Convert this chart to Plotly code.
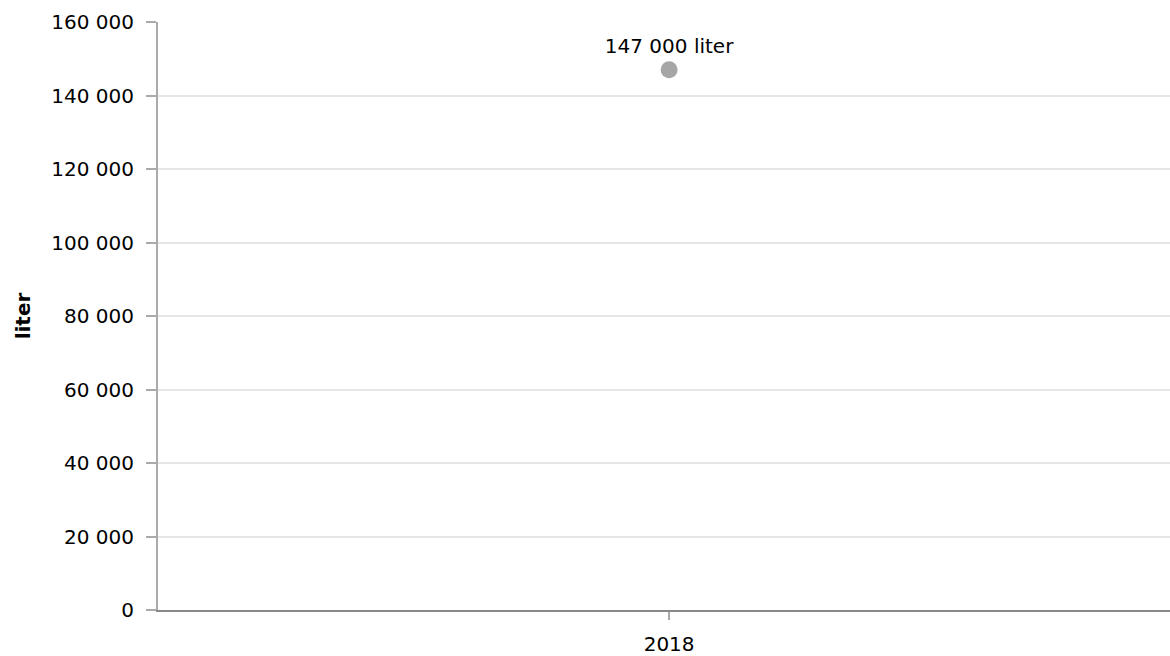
import plotly.graph_objects as go

years = ["2018"]
values = [147000]
labels = ["147 000 liter"]
y_ticks = [0, 20000, 40000, 60000, 80000, 100000, 120000, 140000, 160000]
y_tick_text = ["0", "20 000", "40 000", "60 000", "80 000", "100 000", "120 000", "140 000", "160 000"]

font = "DejaVu Sans, Verdana, sans-serif"
fs = 20

fig = go.Figure()
fig.add_trace(go.Scatter(
    x=years, y=values, mode="markers+text",
    marker=dict(color="#a6a6a6", size=17),
    text=labels, textposition="top center",
    textfont=dict(family=font, size=fs, color="#000000"),
    cliponaxis=False, hoverinfo="skip",
))

fig.update_layout(
    width=1170, height=656,
    margin=dict(l=158, r=0, t=22, b=46, autoexpand=False),
    paper_bgcolor="white", plot_bgcolor="white",
    showlegend=False,
    font=dict(family=font, size=fs, color="#000000"),
)
fig.update_yaxes(
    range=[0, 160000], tickvals=y_ticks, ticktext=y_tick_text,
    showgrid=True, gridcolor="#e6e6e6", gridwidth=2,
    showline=True, linecolor="#aaaaaa", linewidth=2,
    ticks="outside", ticklen=10, tickcolor="#aaaaaa", tickwidth=2,
    ticklabelstandoff=8, automargin=False,
    tickfont=dict(family=font, size=fs),
    zeroline=False,
    title=dict(text="<b>liter</b>", font=dict(family=font, size=fs), standoff=15),
)
fig.update_xaxes(
    type="category", range=[-0.5, 0.49],
    showgrid=False, showline=True, linecolor="#888888", linewidth=2,
    ticks="outside", ticklen=8, tickcolor="#aaaaaa", tickwidth=2,
    ticklabelstandoff=7, automargin=False,
    tickfont=dict(family=font, size=fs),
)
fig.write_html(
    "out.html",
    config={"displayModeBar": False},
    post_script="document.body.style.margin='0';document.body.style.overflow='hidden';",
)
